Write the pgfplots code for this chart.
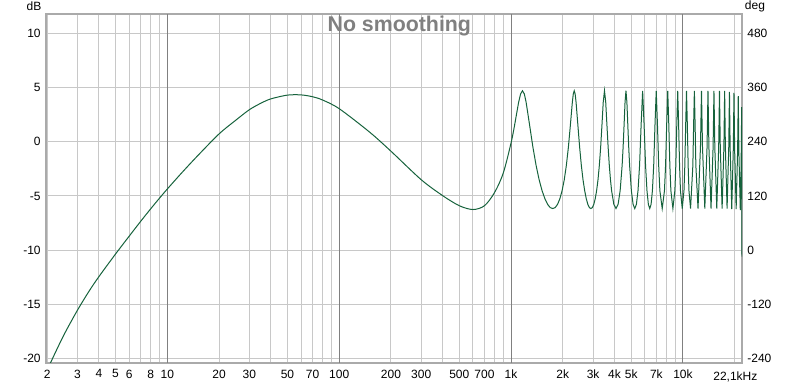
\documentclass[border=0pt]{standalone}
\usepackage{pgfplots}
\pgfplotsset{compat=1.18}
\usepackage{fontspec}
\setmainfont{Liberation Sans}
\definecolor{curve}{RGB}{22,98,60}
\definecolor{gridlight}{RGB}{200,200,200}
\definecolor{griddark}{RGB}{128,128,128}
\definecolor{frame}{RGB}{170,170,170}
\begin{document}
\begin{tikzpicture}
\begin{axis}[
  at={(0,0)}, anchor=south west,
  scale only axis, width=522pt, height=261.75pt,
  xmode=log, log basis x=10,
  xmin=1.97, xmax=22050,
  ymin=-20.4, ymax=11.78,
  axis line style={draw=frame, line width=2pt},
  major tick length=0pt, minor tick length=0pt,
  xtick={2,3,4,5,6,7,8,9,20,30,40,50,60,70,80,90,200,300,400,500,600,700,800,900,2000,3000,4000,5000,6000,7000,8000,9000,20000},
  xticklabels={2,3,4,5,6,,8,,20,30,,50,,70,,,200,300,,500,,700,,,2k,3k,4k,5k,,7k,,,},
  extra x ticks={10,100,1000,10000},
  extra x tick labels={10,100,1k,10k},
  extra x tick style={grid style={draw=griddark, line width=0.75pt}},
  xmajorgrids, grid style={draw=gridlight, line width=0.75pt},
  ytick={-20,-15,-10,-5,0,5,10},
  yticklabels={-20,-15,-10,-5,0,5,10},
  ymajorgrids,
  tick label style={font=\fontsize{9}{10}\selectfont, text=black},
  xticklabel style={yshift=-1.5pt},
  yticklabel style={xshift=-0.5pt},
  clip=true,
]
\addplot[curve, line width=0.75pt, smooth] coordinates {
(2.0,-21.08) (2.12,-20.19) (2.5,-17.83) (3,-15.54) (3.5,-13.80) (4,-12.44) (5,-10.35) (6,-8.71) (7,-7.34) (8,-6.19) (9,-5.21) (10,-4.36) (12,-2.95) (15,-1.30) (20,0.72) (25,1.98) (30,2.95) (35,3.55) (40,3.95) (50,4.3) (60,4.32) (70,4.15) (80,3.85) (100,3.05) (150,0.9) (200,-0.87) (300,-3.5) (400,-4.97) (500,-5.9) (600,-6.25) (700,-5.9) (800,-4.7) (900,-2.9) (1000,-0.1) (1048.5,1.54)
};
\addplot[curve, line width=0.75pt] coordinates {
(1048.5,1.54) (1106.75,3.65) (1136,4.41) (1165,4.70) (1194,4.41) (1223,3.65) (1281.5,1.54) (1339.75,-0.50) (1398,-2.18) (1456,-3.50) (1514.5,-4.51) (1573,-5.25) (1631,-5.77) (1689,-6.07) (1747.5,-6.16)
(1806,-6.07) (1864,-5.77) (1922.75,-5.25) (1981,-4.51) (2039,-3.50) (2097,-2.18) (2155,-0.50) (2213,1.54) (2272,3.65) (2301,4.41) (2330,4.70) (2359,4.41) (2388,3.65) (2446.5,1.54) (2505,-0.50) (2563,-2.18) (2621,-3.50) (2680,-4.51) (2738,-5.25) (2796,-5.77) (2854,-6.07) (2912.5,-6.16)
(2971,-6.07) (3029,-5.77) (3087,-5.25) (3145.5,-4.51) (3204,-3.50) (3262,-2.18) (3320,-0.50) (3378.5,1.54) (3436.75,3.65) (3495,4.70) (3553,3.65) (3611.5,1.54) (3670,-0.50) (3728,-2.18) (3786,-3.50) (3844.5,-4.51) (3961,-5.77) (4077.5,-6.16)
(4194,-5.77) (4310.5,-4.51) (4427,-2.18) (4485,-0.50) (4543.5,1.54) (4601.75,3.65) (4660,4.70) (4718,3.65) (4776.5,1.54) (4835,-0.50) (4893,-2.18) (5009.5,-4.51) (5126,-5.77) (5242.5,-6.16)
(5359,-5.77) (5475.5,-4.51) (5592,-2.18) (5708.5,1.54) (5825,4.70) (5941.5,1.54) (6058,-2.18) (6174.5,-4.51) (6291,-5.77) (6407.5,-6.16)
(6524,-5.77) (6640.5,-4.51) (6757,-2.18) (6873.5,1.54) (6990,4.70) (7106.5,1.54) (7223,-2.18) (7339.5,-4.51) (7572.5,-6.16)
(7805.5,-4.51) (7922,-2.18) (8038.5,1.54) (8155,4.70) (8271.5,1.54) (8388,-2.18) (8504.5,-4.51) (8737.5,-6.16)
(8970.5,-4.51) (9087,-2.18) (9203.5,1.54) (9320,4.70) (9436.5,1.54) (9553,-2.18) (9669.5,-4.51) (9902.5,-6.16)
(10135.5,-4.51) (10252,-2.18) (10368.5,1.54) (10485,4.70) (10601.5,1.54) (10718,-2.18) (10834.5,-4.51) (11067.5,-6.16)
(11417,-2.18) (11533.5,1.54) (11650,4.70) (11766.5,1.54) (11883,-2.18) (12232.5,-6.16)
(12640,-0.50) (12815,4.70) (12990,-0.50) (13397.5,-6.16)
(13805,-0.50) (13980,4.70) (14155,-0.50) (14562.5,-6.16)
(14970,-0.50) (15145,4.70) (15320,-0.50) (15727.5,-6.16)
(16135,-0.50) (16310,4.70) (16485,-0.50) (16892.5,-6.16)
(17300,-0.50) (17475,4.70) (17650,-0.50) (18057.5,-6.16)
(18465,-0.50) (18640,4.60) (18815,-0.60) (19222.5,-6.20)
(19630,-0.60) (19805,4.50) (19980,-0.70) (20387.5,-6.20)
(20795,-0.80) (20970,4.20) (21145,-0.90) (21552,-6.30)
(21800,-2.0) (21950,3.2) (22050,-10.6)
};
\end{axis}
\begin{axis}[
  at={(0,0)}, anchor=south west,
  scale only axis, width=522pt, height=261.75pt,
  xmode=log, xmin=1.97, xmax=22050,
  ymin=-249.6, ymax=522.7,
  hide x axis,
  axis y line*=right,
  axis line style={draw=none},
  major tick length=0pt,
  ytick={-240,-120,0,120,240,360,480},
  yticklabels={-240,-120,0,120,240,360,480},
  tick label style={font=\fontsize{9}{10}\selectfont, text=black},
  yticklabel style={xshift=0.5pt},
]
\addplot[draw=none] coordinates {(10,0)};
\end{axis}
\node[font=\fontsize{16}{18}\selectfont\bfseries, text=griddark] at (265pt,252.5pt) {No smoothing};
\node[font=\fontsize{9}{10}\selectfont] at (-9pt,267.5pt) {dB};
\node[font=\fontsize{9}{10}\selectfont] at (531.75pt,267.5pt) {deg};
\node[font=\fontsize{9}{10}\selectfont, anchor=base] at (517pt,-13.5pt) {22,1kHz};
\pgfresetboundingbox
\path[use as bounding box] (-34.5pt,-15.75pt) rectangle (565.5pt,272.25pt);
\end{tikzpicture}
\end{document}
